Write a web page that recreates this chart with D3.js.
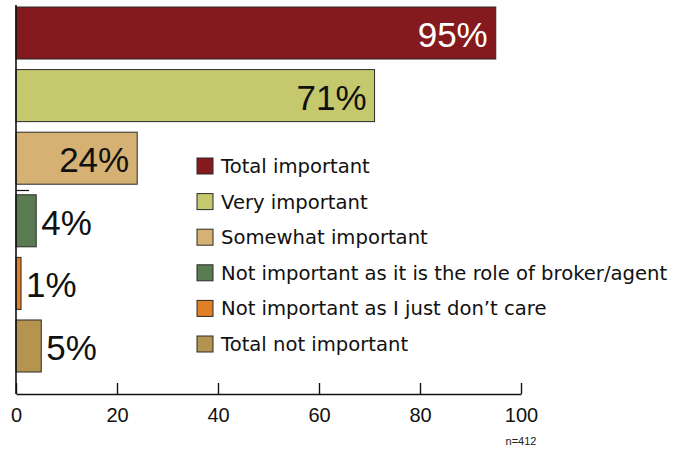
<!DOCTYPE html>
<html>
<head>
<meta charset="utf-8">
<script src="https://cdn.jsdelivr.net/npm/d3@7"></script>
<style>
  html, body { margin: 0; padding: 0; background: #fff; }
  svg { display: block; font-family: "Liberation Sans", Arial, sans-serif; }
</style>
</head>
<body>
<svg id="chart" width="682" height="451"></svg>
<script>
// Survey responses: importance rating (percent of respondents)
const categories = [
  "Total important",
  "Very important",
  "Somewhat important",
  "Not important as it is the role of broker/agent",
  "Not important as I just don\u2019t care",
  "Total not important"
];
const values = [95, 71, 24, 4, 1, 5];
const colors = ["#841a1e", "#c5c86d", "#d6b174", "#5b7b52", "#e07f26", "#b5944f"];
const labelColors = ["#ffffff", "#111111", "#111111", "#111111", "#111111", "#111111"];
const xTicks = [0, 20, 40, 60, 80, 100];
const sampleNote = "n=412";

const svg = d3.select("#chart");

const x = d3.scaleLinear().domain([0, 100]).range([16, 521]);
const y = d3.scaleBand().domain(categories).range([7, 372]).paddingInner(0.169).paddingOuter(0);
const axisY = 394;

// bars
svg.append("g").selectAll("rect")
  .data(categories)
  .join("rect")
  .attr("x", x(0))
  .attr("y", d => y(d))
  .attr("width", (d, i) => x(values[i]) - x(0))
  .attr("height", y.bandwidth())
  .attr("fill", (d, i) => colors[i])
  .attr("stroke", "#2a2a2a")
  .attr("stroke-width", 1);

// value labels: inside the bar end for long bars, just past it for short ones
svg.append("g").selectAll("text")
  .data(categories)
  .join("text")
  .attr("x", (d, i) => values[i] > 15 ? x(values[i]) - 8 : x(values[i]) + 5)
  .attr("y", d => y(d) + y.bandwidth() / 2 + 14)
  .attr("text-anchor", (d, i) => values[i] > 15 ? "end" : "start")
  .attr("fill", (d, i) => labelColors[i])
  .attr("font-size", 35)
  .text((d, i) => values[i] + "%");

// x axis with inward ticks
const xAxis = d3.axisBottom(x).tickValues(xTicks).tickSizeInner(-11).tickSizeOuter(0).tickPadding(14);
const gx = svg.append("g").attr("transform", `translate(0,${axisY})`).call(xAxis);
gx.select(".domain").attr("stroke", "#111").attr("stroke-width", 1.6);
gx.selectAll(".tick line").attr("stroke", "#111").attr("stroke-width", 1.4);
gx.selectAll(".tick text").attr("font-size", 20).attr("fill", "#111")
  .attr("font-family", "'Liberation Sans', Arial, sans-serif")
  .attr("dy", "0.72em");

// vertical axis line
svg.append("line")
  .attr("x1", x(0)).attr("x2", x(0))
  .attr("y1", 5).attr("y2", axisY)
  .attr("stroke", "#111").attr("stroke-width", 1.6);

// short tick between the importance and non-importance groups
svg.append("line")
  .attr("x1", x(0)).attr("x2", x(0) + 13)
  .attr("y1", 190.5).attr("y2", 190.5)
  .attr("stroke", "#111").attr("stroke-width", 1.2);

// legend
const legend = svg.append("g").attr("transform", "translate(197,158)");
const rowH = 35.6;
const rows = legend.selectAll("g")
  .data(categories)
  .join("g")
  .attr("transform", (d, i) => `translate(0,${i * rowH})`);
rows.append("rect")
  .attr("width", 16).attr("height", 16)
  .attr("fill", (d, i) => colors[i])
  .attr("stroke", "#2a2a2a").attr("stroke-width", 1);
rows.append("text")
  .attr("x", 24).attr("y", 15)
  .attr("font-family", "'DejaVu Sans', sans-serif")
  .attr("font-size", 19.6)
  .attr("fill", "#111")
  .text(d => d);

// sample size note
svg.append("text")
  .attr("x", x(100)).attr("y", 445)
  .attr("text-anchor", "middle")
  .attr("font-size", 11)
  .attr("fill", "#222")
  .text(sampleNote);
</script>
</body>
</html>
